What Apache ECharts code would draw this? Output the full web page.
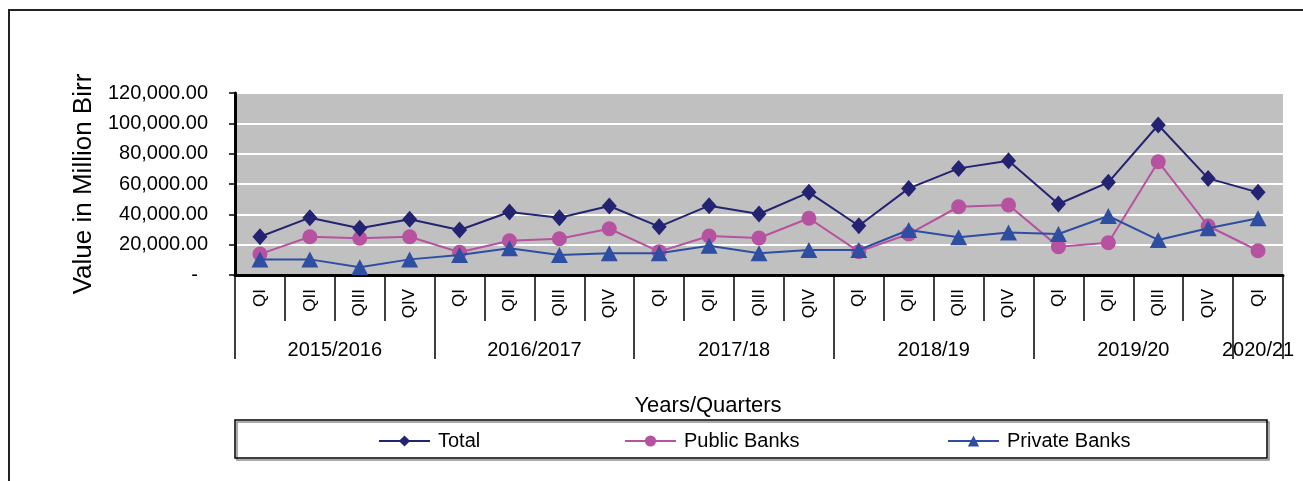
<!DOCTYPE html>
<html>
<head>
<meta charset="utf-8">
<script src="https://cdn.jsdelivr.net/npm/echarts@6/dist/echarts.min.js"></script>
<style>
  html, body { margin: 0; padding: 0; background: #fff; }
  #chart { width: 1303px; height: 481px; }
</style>
</head>
<body>
<div id="chart"></div>
<script>
// Quarterly values (million Birr), fiscal years 2015/16 – 2020/21
const quarters = ['QI','QII','QIII','QIV','QI','QII','QIII','QIV','QI','QII','QIII','QIV',
                  'QI','QII','QIII','QIV','QI','QII','QIII','QIV','QI'];
const years = ['2015/2016','2016/2017','2017/18','2018/19','2019/20','2020/21'];
const quartersPerYear = [4, 4, 4, 4, 4, 1];

const total   = [25250, 37800, 30800, 36700, 29700, 41500, 37800, 45500, 31850, 45700, 40200, 54500,
                 32500, 57100, 70300, 75400, 46800, 61100, 98900, 63700, 54500];
const publicBanks  = [13800, 25250, 24200, 25250, 15000, 22600, 23900, 30500, 15400, 25700, 24400, 37400,
                 15400, 27000, 45000, 46150, 18700, 21300, 74700, 32300, 16000];
const privateBanks = [10300, 10300, 5100, 10300, 13200, 17600, 13200, 14300, 14300, 19300, 14300, 16500,
                 16500, 29700, 24850, 28100, 27000, 38900, 23100, 30800, 37400];

const yTicks = { min: 0, max: 120000, step: 20000 };

// Year group boundaries and centres along the quarter scale
const yearBounds = [0];
quartersPerYear.forEach(n => yearBounds.push(yearBounds[yearBounds.length - 1] + n));
const yearCentres = years.map((_, i) => (yearBounds[i] + yearBounds[i + 1]) / 2);

const FONT = "'Liberation Sans', Arial, sans-serif";
const C_TOTAL = '#232372', C_PUBLIC = '#B6529F', C_PRIVATE = '#2E4EA2';

const chart = echarts.init(document.getElementById('chart'));

const legendBase = {
  orient: 'horizontal', top: 431, padding: 0, itemWidth: 51, itemHeight: 14,
  textStyle: { fontFamily: FONT, fontSize: 20, color: '#000', padding: [0, 0, 0, 3] },
  selectedMode: false
};

chart.setOption({
  animation: false,
  textStyle: { fontFamily: FONT },
  grid: { left: 235, right: 20, top: 93, bottom: 206, show: true, backgroundColor: '#C0C0C0', borderWidth: 0 },
  graphic: [
    { type: 'rect', shape: { x: 9, y: 10, width: 1400, height: 600 },
      style: { fill: 'none', stroke: '#222', lineWidth: 2 }, silent: true },
    { type: 'rect', shape: { x: 235, y: 420, width: 1032, height: 38 },
      style: { fill: 'none', stroke: '#000', lineWidth: 1.5,
               shadowColor: 'rgba(0,0,0,0.45)', shadowOffsetX: 2, shadowOffsetY: 2 }, silent: true },
    { type: 'text', x: 708, y: 406,
      style: { text: 'Years/Quarters', font: "22px 'Liberation Sans', Arial", fill: '#000',
               align: 'center', verticalAlign: 'middle' },
      silent: true }
  ],
  legend: [
    Object.assign({ data: ['Total'], left: 378 }, legendBase),
    Object.assign({ data: ['Public Banks'], left: 624 }, legendBase),
    Object.assign({ data: ['Private Banks'], left: 947 }, legendBase)
  ],
  xAxis: [
    {
      type: 'category', data: quarters, boundaryGap: true, position: 'bottom',
      axisLine: { lineStyle: { color: '#000', width: 3 } },
      axisTick: { show: true, interval: 0, length: 46, lineStyle: { color: '#000', width: 1.5 } },
      axisLabel: { interval: 0, rotate: 90, margin: 14, fontSize: 17, color: '#000', fontFamily: FONT },
      splitLine: { show: false }
    },
    {
      type: 'value', min: 0, max: quarters.length, position: 'bottom',
      axisLine: { show: false },
      axisTick: { show: true, customValues: yearBounds, length: 84, lineStyle: { color: '#000', width: 1.5 } },
      axisLabel: {
        customValues: yearCentres, margin: 65, fontSize: 20, color: '#000', fontFamily: FONT,
        formatter: v => years[yearCentres.indexOf(v)] || ''
      },
      splitLine: { show: false }
    }
  ],
  yAxis: {
    type: 'value', min: yTicks.min, max: yTicks.max, interval: yTicks.step,
    name: 'Value in Million Birr', nameLocation: 'middle', nameGap: 136, nameRotate: 90,
    nameTextStyle: { fontSize: 26, color: '#000', fontFamily: FONT },
    axisLine: { show: true, lineStyle: { color: '#000', width: 3 } },
    axisTick: { show: true, length: 6, lineStyle: { color: '#000', width: 1.5 } },
    axisLabel: {
      margin: 27, fontSize: 20, color: '#000', fontFamily: FONT,
      formatter: v => v === 0 ? '{d|-}' : v.toLocaleString('en-US', { minimumFractionDigits: 2, maximumFractionDigits: 2 }),
      rich: { d: { fontSize: 20, color: '#000', padding: [0, 10, 0, 0], fontFamily: FONT } }
    },
    splitLine: { lineStyle: { color: '#fff', width: 2 } }
  },
  series: [
    { name: 'Total', type: 'line', data: total, symbol: 'diamond', symbolSize: [15, 17],
      itemStyle: { color: C_TOTAL }, lineStyle: { color: C_TOTAL, width: 2 }, z: 4 },
    { name: 'Public Banks', type: 'line', data: publicBanks, symbol: 'circle', symbolSize: 15,
      itemStyle: { color: C_PUBLIC }, lineStyle: { color: C_PUBLIC, width: 2 }, z: 3 },
    { name: 'Private Banks', type: 'line', data: privateBanks, symbol: 'triangle', symbolSize: [17, 16],
      itemStyle: { color: C_PRIVATE }, lineStyle: { color: C_PRIVATE, width: 2 }, z: 5 }
  ]
});
</script>
</body>
</html>
